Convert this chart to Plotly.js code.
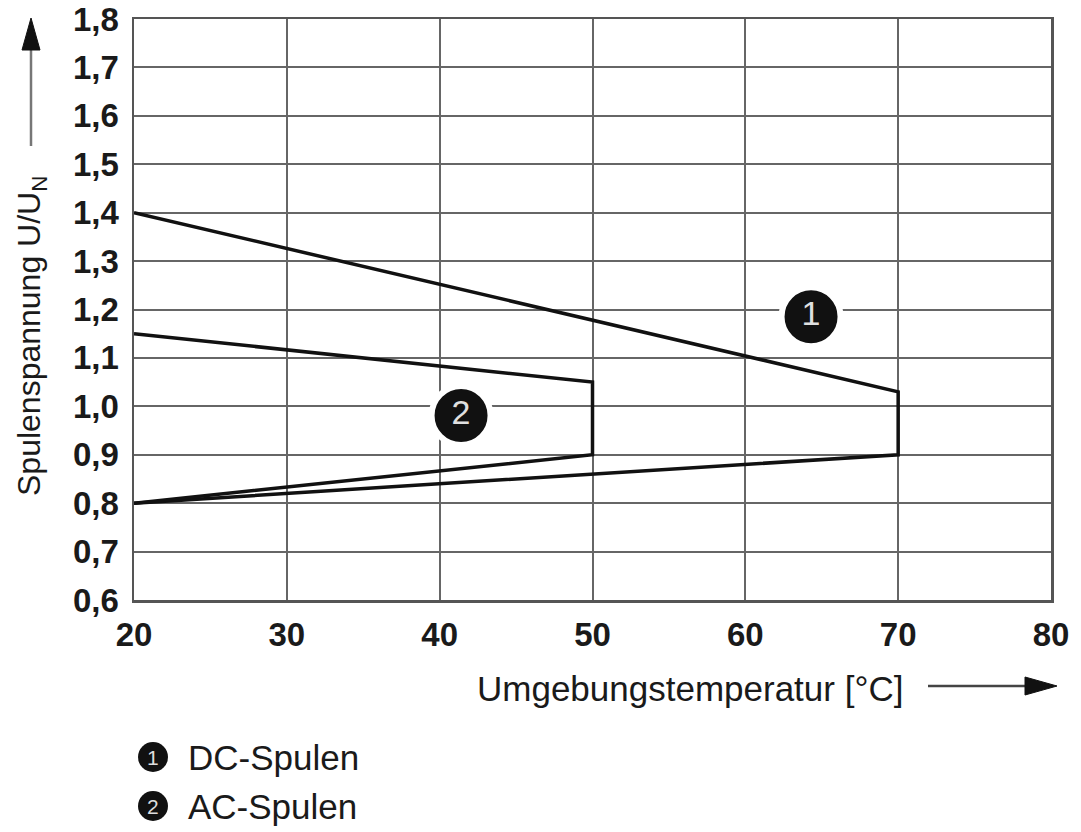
<!DOCTYPE html>
<html>
<head>
<meta charset="utf-8">
<script src="https://cdn.plot.ly/plotly-3.0.1.min.js"></script>
<style>html,body{margin:0;padding:0;background:#fff;}#chart{width:1081px;height:832px;}</style>
</head>
<body>
<div id="chart"></div>
<script>
// Data
const dcTemp = [20, 70, 70, 20];
const dcVolt = [1.40, 1.03, 0.90, 0.80];
const acTemp = [20, 50, 50, 20];
const acVolt = [1.15, 1.05, 0.90, 0.80];
const labelTemp = [64.3, 41.4];
const labelVolt = [1.185, 0.981];
const labelText = ['1', '2'];
const legendNums = ['1', '2'];
const legendNames = ['DC-Spulen', 'AC-Spulen'];
const xTicks = [20, 30, 40, 50, 60, 70, 80];
const yTicks = [0.6, 0.7, 0.8, 0.9, 1.0, 1.1, 1.2, 1.3, 1.4, 1.5, 1.6, 1.7, 1.8];

const FAM = 'Liberation Sans, Arial, sans-serif';
const tickFont = {family: FAM, size: 33, color: '#1a1a1a', weight: 'bold'};

const traces = [
  {x: dcTemp, y: dcVolt, mode: 'lines', line: {color: '#111', width: 3.5}, hoverinfo: 'skip', showlegend: false},
  {x: acTemp, y: acVolt, mode: 'lines', line: {color: '#111', width: 3.5}, hoverinfo: 'skip', showlegend: false},
  {x: labelTemp, y: labelVolt, mode: 'markers+text', text: labelText, textposition: 'middle center',
   textfont: {family: FAM, size: 34, color: '#e0e0e0'},
   marker: {symbol: 'circle', size: 59, color: '#111', line: {color: '#fff', width: 6}},
   hoverinfo: 'skip', showlegend: false, cliponaxis: false}
];

// paper coords helpers: plot area spans px 134..1051 horizontally, 19..600 vertically
const L = 134, R = 1051, T = 19, B = 600;
const px = v => (v - L) / (R - L);
const py = v => (B - v) / (B - T);
const P = (x, y) => px(x) + ',' + py(y);

const annotations = [];
const shapes = [];
const legendY = [757, 806];
legendNames.forEach((name, i) => {
  const yp = py(legendY[i]);
  shapes.push({type: 'circle', xref: 'paper', yref: 'paper', xsizemode: 'pixel', ysizemode: 'pixel',
    xanchor: px(153), yanchor: yp, x0: -15, x1: 15, y0: -15, y1: 15,
    fillcolor: '#111', line: {color: '#111', width: 0}});
  annotations.push({xref: 'paper', yref: 'paper', x: px(153), y: yp, text: legendNums[i], showarrow: false,
    xanchor: 'center', yanchor: 'middle', font: {family: FAM, size: 21, color: '#ddd'}});
  annotations.push({xref: 'paper', yref: 'paper', x: px(186), y: yp, text: name, showarrow: false,
    xanchor: 'left', yanchor: 'middle', font: {family: FAM, size: 35, color: '#1a1a1a'}});
});

// axis titles
annotations.push({xref: 'paper', yref: 'paper', x: px(690), y: py(688), text: 'Umgebungstemperatur [°C]',
  showarrow: false, xanchor: 'center', yanchor: 'middle', font: {family: FAM, size: 35, color: '#1a1a1a'}});
annotations.push({xref: 'paper', yref: 'paper', x: px(31), y: py(336), text: 'Spulenspannung U/U<sub>N</sub>',
  showarrow: false, textangle: -90, xanchor: 'center', yanchor: 'middle', font: {family: FAM, size: 32, color: '#1a1a1a'}});

// arrows (decorative) as shapes
shapes.push({type: 'line', xref: 'paper', yref: 'paper', x0: px(31), x1: px(31), y0: py(146), y1: py(46),
  line: {color: '#777', width: 2.5}});
shapes.push({type: 'path', xref: 'paper', yref: 'paper',
  path: 'M' + P(31, 18) + ' L' + P(40, 50) + ' L' + P(22, 50) + ' Z', fillcolor: '#111', line: {color: '#111', width: 1}});
shapes.push({type: 'line', xref: 'paper', yref: 'paper', x0: px(928), x1: px(1030), y0: py(686), y1: py(686),
  line: {color: '#444', width: 2.5}});
shapes.push({type: 'path', xref: 'paper', yref: 'paper',
  path: 'M' + P(1057, 686) + ' L' + P(1025, 677) + ' L' + P(1025, 695) + ' Z', fillcolor: '#111', line: {color: '#111', width: 1}});

const layout = {
  width: 1081, height: 832,
  margin: {l: L, r: 1081 - R, t: T, b: 832 - B},
  paper_bgcolor: '#fff', plot_bgcolor: '#fff',
  separators: ',.',
  xaxis: {range: [20, 80], tickvals: xTicks, tickformat: 'd', showgrid: true, gridcolor: '#666', gridwidth: 2,
    zeroline: false, showline: true, linecolor: '#555', linewidth: 2.5, mirror: true, ticks: '',
    tickfont: tickFont, ticklabelstandoff: 4, fixedrange: true},
  yaxis: {range: [0.6, 1.8], tickvals: yTicks, tickformat: '.1f', showgrid: true, gridcolor: '#666', gridwidth: 2,
    zeroline: false, showline: true, linecolor: '#555', linewidth: 2.5, mirror: true, ticks: '',
    tickfont: tickFont, ticklabelstandoff: 6, fixedrange: true},
  showlegend: false,
  annotations: annotations,
  shapes: shapes
};

Plotly.newPlot('chart', traces, layout, {staticPlot: true, displayModeBar: false});
</script>
</body>
</html>
